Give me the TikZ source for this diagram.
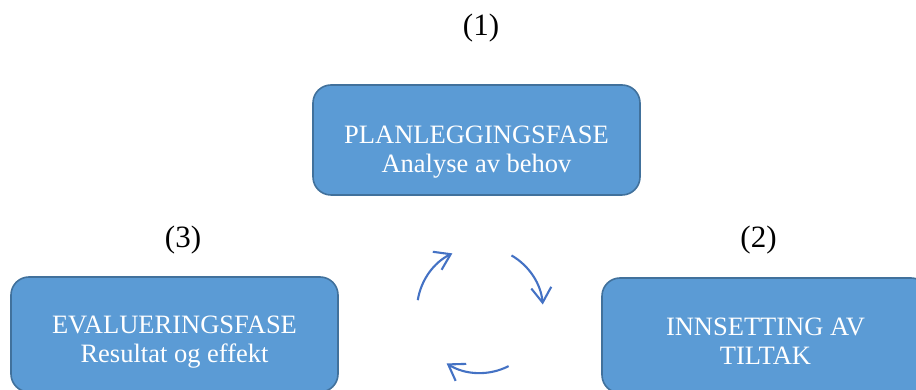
\documentclass[tikz,border=0pt]{standalone}
\usepackage{fontspec}
\setmainfont{Liberation Serif}
\usetikzlibrary{arrows.meta,calc}
\definecolor{boxfill}{HTML}{5B9BD5}
\definecolor{boxline}{HTML}{41719C}
\definecolor{arrowcol}{HTML}{4472C4}
\begin{document}
\begin{tikzpicture}[x=1pt,y=1pt,
  phase/.style={draw=boxline,fill=boxfill,line width=1.6pt,rounded corners=18pt,
    minimum width=327pt,inner sep=0pt},
  phasetext/.style={text=white,align=center,font=\fontsize{26.5}{29}\selectfont,inner sep=0pt},
  numlabel/.style={font=\fontsize{31}{34}\selectfont,inner sep=0pt},
  cyc/.style={draw=arrowcol,line width=2.1pt,-{Straight Barb[length=15pt,width=20pt,line width=2.1pt]}}]
\useasboundingbox (0,0) rectangle (916,390);
\begin{scope}
\clip (0,0) rectangle (916,390);
\node[phase,minimum height=110pt] (plan) at (476.5,250) {};
\node[phase,minimum height=115pt] (eval) at (174.5,55.5) {};
\node[phase,minimum height=115pt] (tiltak) at (765.5,54.5) {};
\end{scope}
\node[phasetext] (plantxt) at (476.5,238) {PLANLEGGINGSFASE\\Analyse av behov};
\node[phasetext] (evaltxt) at (174.5,48) {EVALUERINGSFASE\\Resultat og effekt};
\node[phasetext] (tiltaktxt) at (765.5,48.7) {INNSETTING AV\\TILTAK};
\node[numlabel] (n1) at (481,362) {(1)};
\node[numlabel] (n3) at (183,150) {(3)};
\node[numlabel] (n2) at (758.5,150) {(2)};
\coordinate (c) at (480,80);
\draw[cyc] ($(c)+(171:63)$) arc[start angle=171,end angle=116,radius=63pt];
\draw[cyc] ($(c)+(60:63)$) arc[start angle=60,end angle=5,radius=63pt];
\draw[cyc] ($(c)+(-63:63)$) arc[start angle=-63,end angle=-122,radius=63pt];
\end{tikzpicture}
\end{document}
